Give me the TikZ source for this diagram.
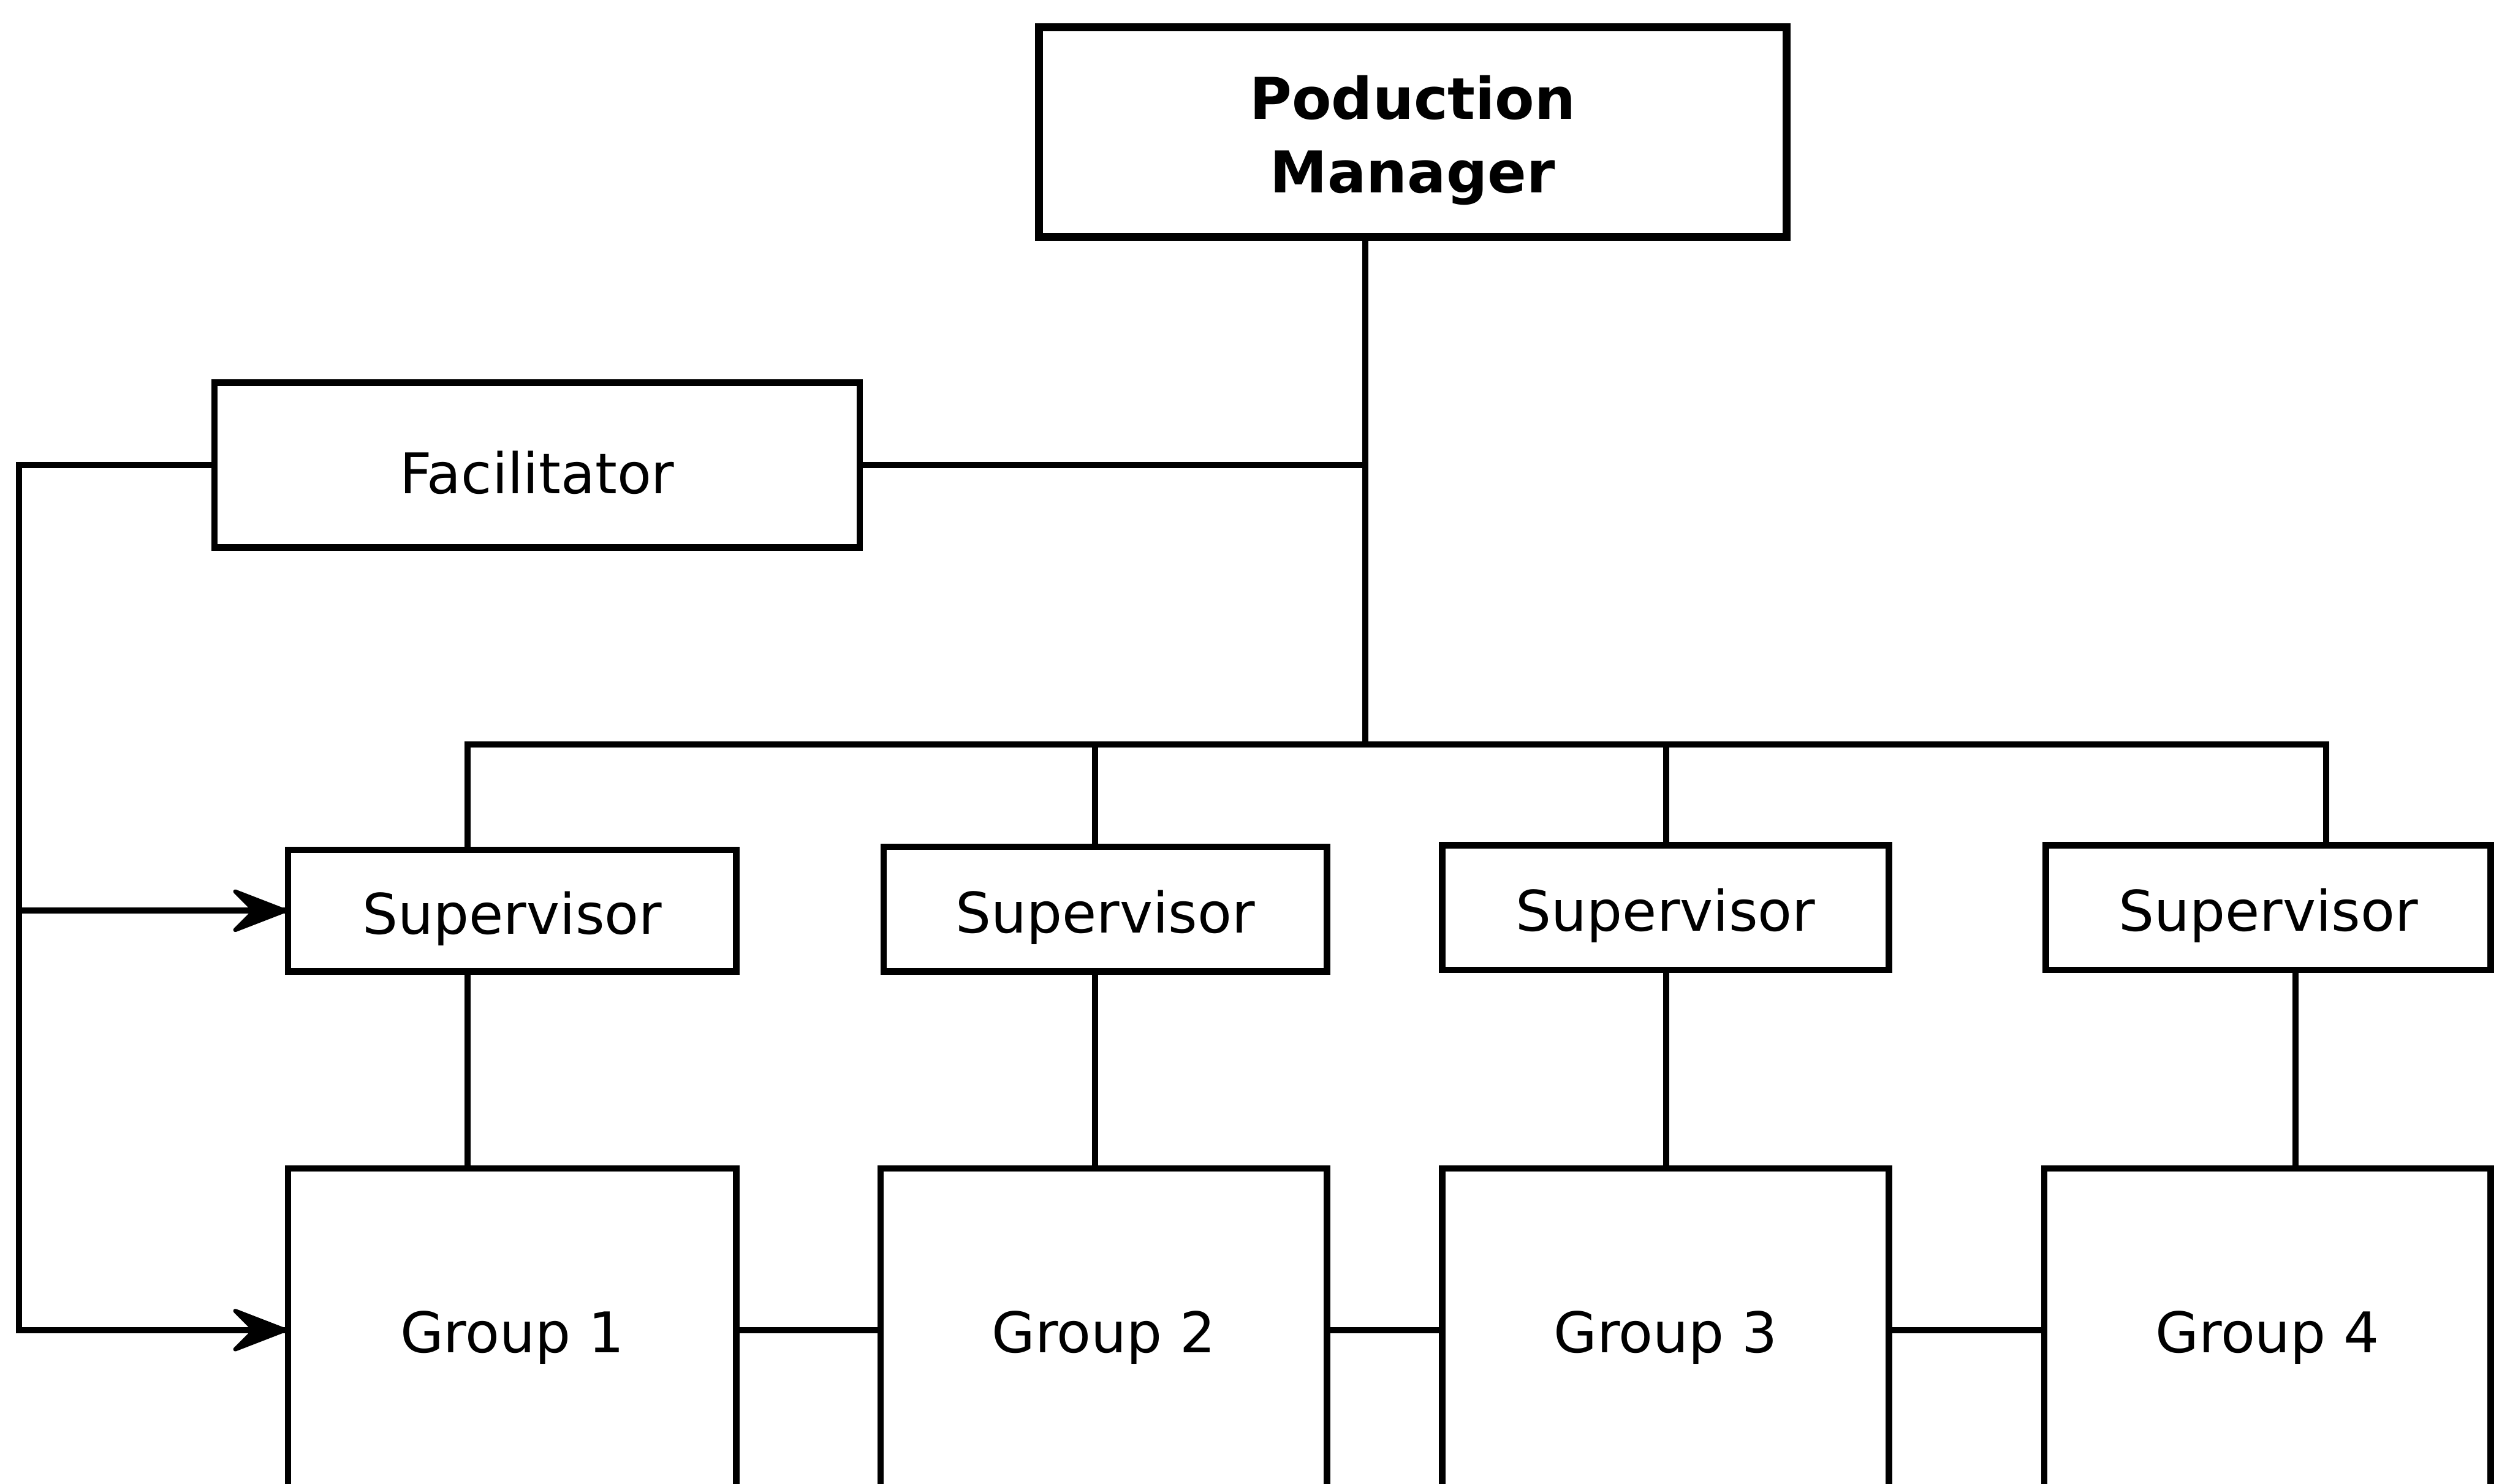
\documentclass[tikz,border=0pt]{standalone}
\usepackage{fontspec}
\setmainfont{DejaVu Sans}
\begin{document}
\begin{tikzpicture}[x=1pt,y=-1pt,
  box/.style={draw,line width=4pt,inner sep=0pt,align=center,text depth=0pt,
    font=\fontsize{35}{46}\selectfont},
  conn/.style={line width=3.8pt},
  tiphead/.style={fill,line width=2.6pt,line join=round}]
  \useasboundingbox (0,0) rectangle (1568,927);
  \clip (0,0) rectangle (1568,927);

  % top of the hierarchy
  \node[box,line width=4.8pt,minimum width=467pt,minimum height=131pt,text depth=,
    font=\fontsize{36}{46}\selectfont\bfseries]
    (mgr) at (882.5,82.5)
    {\raisebox{-38pt}[0pt][0pt]{\begin{tabular}[b]{@{}c@{}}Poduction\\Manager\end{tabular}}};
  \node[box,minimum width=403pt,minimum height=103pt,text height=36pt] (fac) at (335.5,290.5) {Facilitator};

  % supervisors
  \node[box,minimum width=280pt,minimum height=76pt,text height=29.5pt] (s1) at (320,569) {Supervisor};
  \node[box,minimum width=277pt,minimum height=78pt,text height=29.5pt] (s2) at (690.5,568) {Supervisor};
  \node[box,minimum width=279pt,minimum height=78pt,text height=29.5pt] (s3) at (1040.5,567) {Supervisor};
  \node[box,minimum width=278pt,minimum height=78pt,text height=29.5pt] (s4) at (1417,567) {Supervisor};

  % working groups (boxes run past the lower edge)
  \node[box,minimum width=280pt,minimum height=202pt,text height=28pt] (g1) at (320,831) {Group 1};
  \node[box,minimum width=279pt,minimum height=202pt,text height=28pt] (g2) at (689.5,831) {Group 2};
  \node[box,minimum width=279pt,minimum height=202pt,text height=28pt] (g3) at (1040.5,831) {Group 3};
  \node[box,minimum width=279pt,minimum height=202pt,text height=28pt] (g4) at (1416.5,831) {Group 4};

  % routing points
  \coordinate (trunk) at (853,465);
  \coordinate (b1) at (292,465);
  \coordinate (b2) at (684,465);
  \coordinate (b3) at (1041,465);
  \coordinate (b4) at (1453,465);
  \coordinate (c4) at (1434,465);
  \coordinate (lx) at (12,465);

  % manager trunk and facilitator link
  \draw[conn] (trunk |- mgr.south) -- (trunk);
  \draw[conn] (fac.east) -- (fac.east -| trunk);

  % distribution bus to supervisors
  \draw[conn] (b1 |- s1.north) -- (b1) -- (b4) -- (b4 |- s4.north);
  \draw[conn] (b2) -- (b2 |- s2.north);
  \draw[conn] (b3) -- (b3 |- s3.north);

  % supervisors to groups
  \draw[conn] (b1 |- s1.south) -- (b1 |- g1.north);
  \draw[conn] (b2 |- s2.south) -- (b2 |- g2.north);
  \draw[conn] (b3 |- s3.south) -- (b3 |- g3.north);
  \draw[conn] (c4 |- s4.south) -- (c4 |- g4.north);

  % links between groups
  \draw[conn] (g1.east) -- (g2.west);
  \draw[conn] (g2.east) -- (g3.west);
  \draw[conn] (g3.east) -- (g4.west);

  % facilitator support line with barbed heads
  \draw[conn] (fac.west) -- (lx |- fac.west) -- (lx |- g1.west) -- (g1.west);
  \draw[conn] (lx |- s1.west) -- (s1.west);
  \draw[tiphead] (g1.west) -- ++(-31,-12) -- ++(12,12) -- ++(-12,12) -- cycle;
  \draw[tiphead] (s1.west) -- ++(-31,-12) -- ++(12,12) -- ++(-12,12) -- cycle;
\end{tikzpicture}
\end{document}
